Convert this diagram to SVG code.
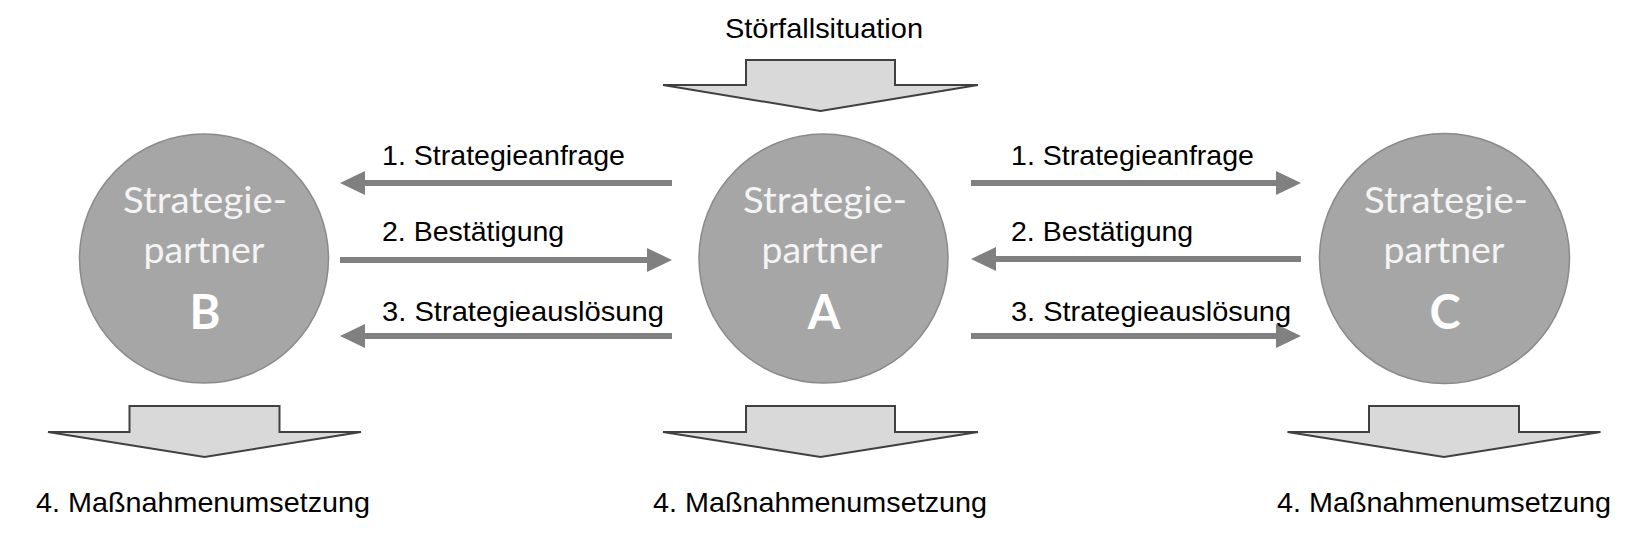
<svg xmlns="http://www.w3.org/2000/svg" width="1648" height="538" viewBox="0 0 1648 538">
<style>
.lbl{font-family:"Liberation Sans",Arial,sans-serif;font-size:28.5px;fill:#000}
.ctr{text-anchor:middle}
.node{fill:#a6a6a6;stroke:#8a8a8a;stroke-width:1.5}
.nt{font-family:Lato,"Open Sans",sans-serif;font-size:37px;fill:#f4f4f4;text-anchor:middle}
.nl{font-family:Lato,"Open Sans",sans-serif;font-size:47px;font-weight:bold;fill:#ffffff;text-anchor:middle}
.blk{fill:#d9d9d9;stroke:#404040;stroke-width:2;stroke-linejoin:miter}
.con{stroke:#808080;stroke-width:6;fill:none;marker-end:url(#ah)}
</style>
<defs>
<marker id="ah" markerUnits="userSpaceOnUse" markerWidth="26" markerHeight="26" viewBox="0 0 26 26" refX="0" refY="13" orient="auto">
<path d="M0,1 L25,13 L0,25 z" fill="#808080"/>
</marker>
</defs>
<rect width="1648" height="538" fill="#ffffff"/>

<g id="stoerfall">
<text class="lbl ctr" x="824" y="38" textLength="198" lengthAdjust="spacingAndGlyphs">Störfallsituation</text>
<path class="blk" d="M746,60 L895,60 L895,85 L978,85 L820.5,111 L663,85 L746,85 Z"/>
</g>

<g id="nodeB">
<circle class="node" cx="204" cy="258.5" r="124.5"/>
<text class="nt" x="205" y="213" textLength="164" lengthAdjust="spacingAndGlyphs">Strategie-</text>
<text class="nt" x="204" y="263" textLength="121" lengthAdjust="spacingAndGlyphs">partner</text>
<text class="nl" x="205" y="329">B</text>
</g>

<g id="nodeA">
<circle class="node" cx="823.5" cy="258.5" r="124.5"/>
<text class="nt" x="825" y="213" textLength="164" lengthAdjust="spacingAndGlyphs">Strategie-</text>
<text class="nt" x="822" y="263" textLength="121" lengthAdjust="spacingAndGlyphs">partner</text>
<text class="nl" x="824" y="329">A</text>
</g>

<g id="nodeC">
<circle class="node" cx="1444.5" cy="258.5" r="125"/>
<text class="nt" x="1446" y="213" textLength="164" lengthAdjust="spacingAndGlyphs">Strategie-</text>
<text class="nt" x="1444" y="263" textLength="121" lengthAdjust="spacingAndGlyphs">partner</text>
<text class="nl" x="1445" y="329">C</text>
</g>

<g id="massnahmeB">
<path class="blk" d="M129.5,406 L279.5,406 L279.5,432 L361,432 L204.5,457 L48,432 L129.5,432 Z"/>
<text class="lbl ctr" x="203" y="512" textLength="334" lengthAdjust="spacingAndGlyphs">4. Maßnahmenumsetzung</text>
</g>

<g id="massnahmeA">
<path class="blk" d="M746,406 L895,406 L895,432 L978,432 L820.5,457 L663,432 L746,432 Z"/>
<text class="lbl ctr" x="820" y="512" textLength="334" lengthAdjust="spacingAndGlyphs">4. Maßnahmenumsetzung</text>
</g>

<g id="massnahmeC">
<path class="blk" d="M1369,406 L1519,406 L1519,432 L1600.5,432 L1444,457 L1287.5,432 L1369,432 Z"/>
<text class="lbl ctr" x="1444" y="512" textLength="334" lengthAdjust="spacingAndGlyphs">4. Maßnahmenumsetzung</text>
</g>

<g id="connectors">
<line class="con" x1="672" y1="183" x2="365" y2="183"/>
<line class="con" x1="340" y1="260" x2="647" y2="260"/>
<line class="con" x1="672" y1="336" x2="365" y2="336"/>
<line class="con" x1="971" y1="183" x2="1276" y2="183"/>
<line class="con" x1="1301" y1="259" x2="996" y2="259"/>
<line class="con" x1="971" y1="336" x2="1276" y2="336"/>
</g>

<g id="connector-labels">
<text class="lbl" x="382" y="165" textLength="243" lengthAdjust="spacingAndGlyphs">1. Strategieanfrage</text>
<text class="lbl" x="382" y="241">2. Bestätigung</text>
<text class="lbl" x="382" y="321" textLength="282" lengthAdjust="spacingAndGlyphs">3. Strategieauslösung</text>
<text class="lbl" x="1011" y="165" textLength="243" lengthAdjust="spacingAndGlyphs">1. Strategieanfrage</text>
<text class="lbl" x="1011" y="241">2. Bestätigung</text>
<text class="lbl" x="1011" y="321" textLength="280" lengthAdjust="spacingAndGlyphs">3. Strategieauslösung</text>
</g>
</svg>
